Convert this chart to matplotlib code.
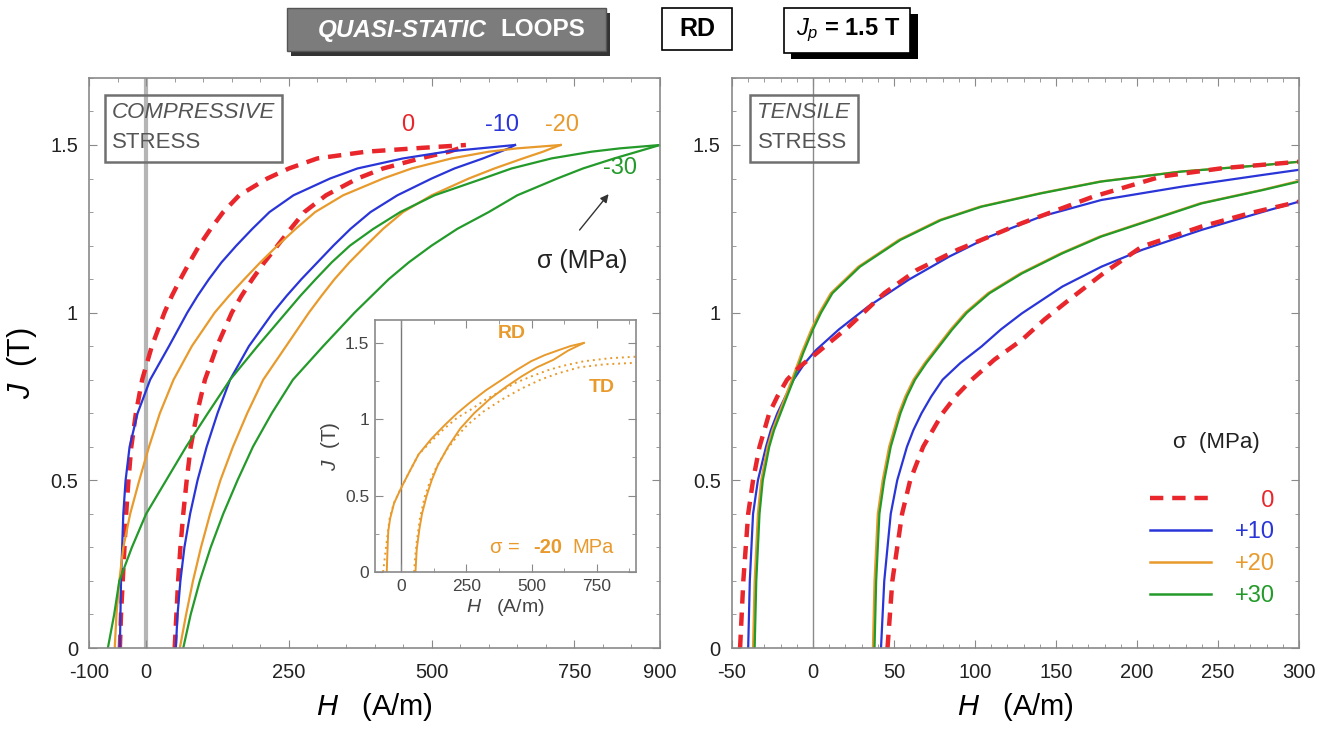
import matplotlib
matplotlib.use("Agg")
import matplotlib.pyplot as plt
from matplotlib.lines import Line2D
from matplotlib.patches import Rectangle
from matplotlib.ticker import MultipleLocator

plt.rcParams['font.family'] = ['Liberation Sans', 'DejaVu Sans']
plt.rcParams['mathtext.fontset'] = 'custom'
plt.rcParams['mathtext.it'] = 'Liberation Sans:italic'
plt.rcParams['mathtext.rm'] = 'Liberation Sans'
plt.rcParams['mathtext.bf'] = 'Liberation Sans:bold'

RED, BLUE, ORANGE, GREEN = '#e8262b', '#2a35d8', '#e89a2c', '#239a2a'

# ---- compressive stress (left panel), H read at common J levels ----
J_lev = [0, 0.1, 0.2, 0.3, 0.4, 0.5, 0.6, 0.7, 0.8, 0.9, 1.0, 1.05, 1.1, 1.15,
         1.2, 1.25, 1.3, 1.35, 1.4, 1.43, 1.46, 1.48, 1.49, 1.5]
c0_up = [-46, -44, -41, -38, -35, -31, -26, -18, -7, 10, 32, 45, 60, 76,
         93, 113, 135, 163, 212, 250, 300, 385, 470, 560]
c0_lo = [50, 53, 56, 60, 65, 71, 78, 89, 103, 124, 150, 167, 186, 207,
         230, 253, 277, 315, 370, 415, 480, 530, 548, 560]
c10_up = [-46, -45, -44, -42, -40, -36, -29, -15, 7, 40, 72, 90, 110, 132,
          158, 186, 216, 258, 322, 370, 450, 525, 585, 646]
c10_lo = [52, 55, 60, 67, 77, 90, 106, 125, 147, 180, 222, 246, 272, 300,
          328, 358, 393, 440, 500, 540, 590, 620, 635, 646]
c20_up = [-55, -52, -47, -40, -28, -12, 5, 24, 48, 80, 120, 145, 172, 200,
          230, 262, 296, 345, 415, 465, 535, 600, 650, 726]
c20_lo = [59, 70, 82, 96, 112, 130, 152, 177, 205, 245, 285, 307, 330, 356,
          385, 415, 450, 500, 565, 610, 660, 695, 710, 726]
c30_up = [-67, -56, -47, -25, 0, 35, 70, 108, 147, 195, 245, 270, 297, 325,
          357, 398, 445, 505, 590, 640, 710, 780, 830, 900]
c30_lo = [65, 78, 94, 113, 135, 160, 187, 220, 257, 310, 365, 395, 425, 460,
          500, 545, 600, 650, 720, 765, 820, 860, 880, 900]

# ---- tensile stress (right panel) ----
t0_up_H = [-45, -43, -40, -37, -33, -30, -27, -22, -16, -8, 0, 10, 22, 44, 64, 89, 129, 173, 215, 253, 300]
t0_up_J = [0, 0.2, 0.4, 0.5, 0.6, 0.65, 0.7, 0.75, 0.8, 0.84, 0.87, 0.91, 0.958, 1.058, 1.127, 1.187, 1.267, 1.346, 1.406, 1.431, 1.45]
t0_lo_H = [46, 49, 55, 60, 68, 74, 80, 88, 98, 112, 129, 143, 158, 180, 203, 240, 270, 300]
t0_lo_J = [0, 0.2, 0.4, 0.5, 0.6, 0.65, 0.7, 0.75, 0.8, 0.86, 0.919, 0.98, 1.038, 1.12, 1.197, 1.257, 1.297, 1.331]
t10_up_H = [-40, -39, -37, -34, -29, -26, -22, -17, -12, -5, 2, 16, 34, 59, 84, 109, 141, 178, 228, 278, 300]
t10_up_J = [0, 0.2, 0.4, 0.5, 0.6, 0.65, 0.7, 0.75, 0.8, 0.85, 0.889, 0.95, 1.018, 1.098, 1.167, 1.227, 1.287, 1.336, 1.376, 1.411, 1.426]
t10_lo_H = [42, 44, 48, 52, 58, 62, 67, 73, 80, 91, 104, 116, 129, 154, 178, 203, 240, 278, 300]
t10_lo_J = [0, 0.2, 0.4, 0.5, 0.6, 0.65, 0.7, 0.75, 0.8, 0.85, 0.899, 0.95, 0.998, 1.078, 1.137, 1.187, 1.247, 1.301, 1.331]
t20_up_H = [-37, -36, -34, -32, -28, -25, -21, -17, -13, -7, -1, 4, 11, 28, 53, 78, 103, 140, 177, 227, 277, 300]
t20_up_J = [0, 0.2, 0.4, 0.5, 0.6, 0.65, 0.7, 0.75, 0.8, 0.88, 0.95, 1.0, 1.058, 1.137, 1.217, 1.276, 1.316, 1.356, 1.391, 1.421, 1.44, 1.45]
t20_lo_H = [37, 38, 40, 43, 47, 50, 53, 57, 62, 69, 77, 85, 94, 108, 128, 153, 177, 202, 239, 277, 300]
t20_lo_J = [0, 0.2, 0.4, 0.5, 0.6, 0.65, 0.7, 0.75, 0.8, 0.85, 0.9, 0.95, 1.0, 1.058, 1.117, 1.177, 1.227, 1.267, 1.326, 1.366, 1.393]
t30_up_H = [-36, -35, -33, -31, -27, -24, -20, -16, -12, -6, 0, 5, 12, 29, 54, 79, 104, 141, 178, 228, 278, 300]
t30_up_J = [0, 0.2, 0.4, 0.5, 0.6, 0.65, 0.7, 0.75, 0.8, 0.88, 0.95, 1.0, 1.058, 1.137, 1.217, 1.276, 1.316, 1.356, 1.391, 1.421, 1.44, 1.45]
t30_lo_H = [38, 39, 41, 44, 48, 51, 54, 58, 63, 70, 78, 86, 95, 109, 129, 154, 178, 203, 240, 278, 300]
t30_lo_J = [0, 0.2, 0.4, 0.5, 0.6, 0.65, 0.7, 0.75, 0.8, 0.85, 0.9, 0.95, 1.0, 1.058, 1.117, 1.177, 1.227, 1.267, 1.326, 1.366, 1.391]

# ---- inset: sigma = -20 MPa, RD vs TD ----
rd_up_H = [-55, -53, -51, -49, -42, -27, 0, 30, 67, 115, 166, 215, 264, 325, 387, 440, 498, 550, 609, 650, 700]
rd_up_J = [0, 0.1, 0.2, 0.27, 0.35, 0.45, 0.55, 0.65, 0.77, 0.87, 0.96, 1.04, 1.11, 1.19, 1.26, 1.32, 1.38, 1.42, 1.456, 1.48, 1.5]
rd_lo_H = [55, 60, 70, 80, 98, 117, 141, 180, 227, 280, 338, 400, 461, 520, 584, 640, 700]
rd_lo_J = [0, 0.15, 0.28, 0.38, 0.5, 0.6, 0.7, 0.82, 0.94, 1.04, 1.13, 1.21, 1.28, 1.34, 1.39, 1.45, 1.5]
td_up_H = [-69, -62, -55, -50, -44, -28, 0, 30, 67, 118, 166, 215, 264, 325, 387, 440, 498, 560, 620, 700, 800, 900]
td_up_J = [0, 0.1, 0.2, 0.27, 0.35, 0.45, 0.55, 0.65, 0.77, 0.86, 0.94, 1.01, 1.06, 1.13, 1.19, 1.24, 1.28, 1.32, 1.35, 1.38, 1.40, 1.41]
td_lo_H = [50, 54, 60, 72, 90, 112, 136, 175, 215, 252, 315, 387, 460, 535, 600, 682, 780, 900]
td_lo_J = [0, 0.1, 0.2, 0.35, 0.49, 0.6, 0.69, 0.8, 0.89, 0.96, 1.05, 1.13, 1.2, 1.26, 1.3, 1.34, 1.36, 1.37]

legend_labels = ['\u2007\u20070', '+10', '+20', '+30']

fig = plt.figure(figsize=(13.35, 7.29), dpi=100)
axL = fig.add_axes([0.0667, 0.1111, 0.4277, 0.782])
axR = fig.add_axes([0.5483, 0.1111, 0.4247, 0.782])
axI = fig.add_axes([0.2809, 0.2154, 0.1955, 0.3456])


def style(ax, fs, xpad, ypad):
    for s in ax.spines.values():
        s.set_color('#8a8a8a')
        s.set_linewidth(1.2)
    ax.tick_params(which='both', direction='in', top=True, right=True,
                   color='#8a8a8a', labelsize=fs, labelcolor='#222222')
    ax.tick_params(which='major', length=6)
    ax.tick_params(which='minor', length=3)
    ax.tick_params(axis='x', pad=xpad)
    ax.tick_params(axis='y', pad=ypad)


dash = dict(color=RED, lw=3.2, dashes=(3, 2))

# left panel
axL.axvline(0, color='#b5b5b5', lw=3, zorder=0)
axL.plot(c0_up, J_lev, **dash)
axL.plot(c0_lo, J_lev, **dash)
axL.plot(c10_up, J_lev, color=BLUE, lw=1.6)
axL.plot(c10_lo, J_lev, color=BLUE, lw=1.6)
axL.plot(c20_up, J_lev, color=ORANGE, lw=1.6)
axL.plot(c20_lo, J_lev, color=ORANGE, lw=1.6)
axL.plot(c30_up, J_lev, color=GREEN, lw=1.6)
axL.plot(c30_lo, J_lev, color=GREEN, lw=1.6)
axL.set_xlim(-100, 900)
axL.set_ylim(0, 1.7)
axL.set_xticks([-100, 0, 250, 500, 750, 900])
axL.set_xticklabels(['-100', '0', '250', '500', '750', '900'])
axL.xaxis.set_minor_locator(MultipleLocator(50))
axL.set_yticks([0, 0.5, 1, 1.5])
axL.set_yticklabels(['0', '0.5', '1', '1.5'])
axL.yaxis.set_minor_locator(MultipleLocator(0.1))
style(axL, 14.5, 11, 8)
axL.set_xlabel(r'$H$   (A/m)', fontsize=21, labelpad=6)
axL.set_ylabel(r'$J$  (T)', fontsize=22, labelpad=8)

axL.text(0.04, 0.939, 'COMPRESSIVE', transform=axL.transAxes, fontsize=16,
         style='italic', color='#555555', va='center', ha='left')
axL.text(0.04, 0.886, 'STRESS', transform=axL.transAxes, fontsize=16,
         color='#555555', va='center', ha='left')
axL.add_patch(Rectangle((0.028, 0.853), 0.31, 0.117, transform=axL.transAxes,
                        fill=False, ec='#707070', lw=1.8))
axL.text(458, 1.56, '0', color=RED, fontsize=17, ha='center', va='center')
axL.text(624, 1.56, '-10', color=BLUE, fontsize=17, ha='center', va='center')
axL.text(728, 1.56, '-20', color=ORANGE, fontsize=17, ha='center', va='center')
axL.text(830, 1.43, '-30', color=GREEN, fontsize=17, ha='center', va='center')
axL.annotate('', xy=(813, 1.36), xytext=(756, 1.24),
             arrowprops=dict(arrowstyle='-|>', color='#333333', lw=1,
                             mutation_scale=12))
axL.text(763, 1.155, '\u03c3 (MPa)', fontsize=18, ha='center', va='center',
         color='#222222')

# inset
axI.axvline(0, color='#777777', lw=1, zorder=0)
axI.plot(td_up_H, td_up_J, color=ORANGE, lw=1.4, ls=(0, (1, 2)))
axI.plot(td_lo_H, td_lo_J, color=ORANGE, lw=1.4, ls=(0, (1, 2)))
axI.plot(rd_up_H, rd_up_J, color=ORANGE, lw=1.4)
axI.plot(rd_lo_H, rd_lo_J, color=ORANGE, lw=1.4)
axI.set_xlim(-100, 900)
axI.set_ylim(0, 1.65)
axI.set_xticks([0, 250, 500, 750])
axI.xaxis.set_minor_locator(MultipleLocator(125))
axI.set_yticks([0, 0.5, 1, 1.5])
axI.set_yticklabels(['0', '0.5', '1', '1.5'])
axI.yaxis.set_minor_locator(MultipleLocator(0.25))
style(axI, 12.5, 5, 4)
axI.tick_params(labelcolor='#444444')
axI.set_xlabel(r'$H$   (A/m)', fontsize=14, color='#444444', labelpad=2)
axI.set_ylabel(r'$J$  (T)', fontsize=15, color='#444444', labelpad=2)
axI.text(425, 1.565, 'RD', color=ORANGE, fontsize=14, weight='bold',
         ha='center', va='center')
axI.text(768, 1.21, 'TD', color=ORANGE, fontsize=14, weight='bold',
         ha='center', va='center')
axI.text(560, 0.16, '-20', color=ORANGE, fontsize=14.5, weight='bold',
         ha='center', va='center')
axI.annotate('\u03c3 = ', xy=(560, 0.16), xytext=(-16, 0),
             textcoords='offset points', color=ORANGE, fontsize=14.5,
             ha='right', va='center')
axI.annotate('MPa', xy=(560, 0.16), xytext=(18, 0),
             textcoords='offset points', color=ORANGE, fontsize=14.5,
             ha='left', va='center')

# right panel
axR.axvline(0, color='#8a8a8a', lw=1, zorder=0)
axR.plot(t10_up_H, t10_up_J, color=BLUE, lw=1.6)
axR.plot(t10_lo_H, t10_lo_J, color=BLUE, lw=1.6)
axR.plot(t20_up_H, t20_up_J, color=ORANGE, lw=1.6)
axR.plot(t20_lo_H, t20_lo_J, color=ORANGE, lw=1.6)
axR.plot(t30_up_H, t30_up_J, color=GREEN, lw=1.6)
axR.plot(t30_lo_H, t30_lo_J, color=GREEN, lw=1.6)
axR.plot(t0_up_H, t0_up_J, **dash)
axR.plot(t0_lo_H, t0_lo_J, **dash)
axR.set_xlim(-50, 300)
axR.set_ylim(0, 1.7)
axR.set_xticks([-50, 0, 50, 100, 150, 200, 250, 300])
axR.set_xticklabels(['-50', '0', '50', '100', '150', '200', '250', '300'])
axR.xaxis.set_minor_locator(MultipleLocator(10))
axR.set_yticks([0, 0.5, 1, 1.5])
axR.set_yticklabels(['0', '0.5', '1', '1.5'])
axR.yaxis.set_minor_locator(MultipleLocator(0.1))
style(axR, 14.5, 11, 8)
axR.set_xlabel(r'$H$   (A/m)', fontsize=21, labelpad=6)

axR.text(0.045, 0.939, 'TENSILE', transform=axR.transAxes, fontsize=16,
         style='italic', color='#555555', va='center', ha='left')
axR.text(0.045, 0.886, 'STRESS', transform=axR.transAxes, fontsize=16,
         color='#555555', va='center', ha='left')
axR.add_patch(Rectangle((0.032, 0.853), 0.19, 0.117, transform=axR.transAxes,
                        fill=False, ec='#707070', lw=1.8))
axR.text(249, 0.614, '\u03c3  (MPa)', fontsize=16, ha='center', va='center',
         color='#222222')
handles = [Line2D([], [], **dash),
           Line2D([], [], color=BLUE, lw=1.8),
           Line2D([], [], color=ORANGE, lw=1.8),
           Line2D([], [], color=GREEN, lw=1.8)]
leg = axR.legend(handles, legend_labels, loc='upper left',
                 bbox_to_anchor=(0.737, 0.278), frameon=False, fontsize=17,
                 handlelength=2.6, labelspacing=0.42, borderpad=0,
                 borderaxespad=0, handletextpad=1.0,
                 labelcolor=[RED, BLUE, ORANGE, GREEN])

# header boxes
fig.patches.append(Rectangle((291 / 1335, 1 - 56 / 729), 319 / 1335, 43 / 729,
                             transform=fig.transFigure, fc='#333333', ec='none'))
fig.patches.append(Rectangle((287 / 1335, 1 - 51 / 729), 319 / 1335, 43 / 729,
                             transform=fig.transFigure, fc='#7c7c7c', ec='#555555'))
fig.text(487 / 1335, 1 - 30 / 729, 'QUASI-STATIC', color='white', fontsize=17.5,
         weight='bold', style='italic', ha='right', va='center')
fig.text(500 / 1335, 1 - 30 / 729, 'LOOPS', color='white', fontsize=17.5,
         weight='bold', ha='left', va='center')

fig.patches.append(Rectangle((662 / 1335, 1 - 50 / 729), 70 / 1335, 42 / 729,
                             transform=fig.transFigure, fc='white', ec='black', lw=1.2))
fig.text(697 / 1335, 1 - 29 / 729, 'RD', fontsize=18, weight='bold',
         ha='center', va='center')

fig.patches.append(Rectangle((791 / 1335, 1 - 59 / 729), 127 / 1335, 45 / 729,
                             transform=fig.transFigure, fc='black', ec='none'))
fig.patches.append(Rectangle((784 / 1335, 1 - 53 / 729), 126 / 1335, 45 / 729,
                             transform=fig.transFigure, fc='white', ec='black', lw=1.2))
fig.text(848 / 1335, 1 - 30 / 729, r'$J_{p}$ = 1.5 T', fontsize=17, weight='bold',
         ha='center', va='center')

fig.savefig('out.png', dpi=100)
